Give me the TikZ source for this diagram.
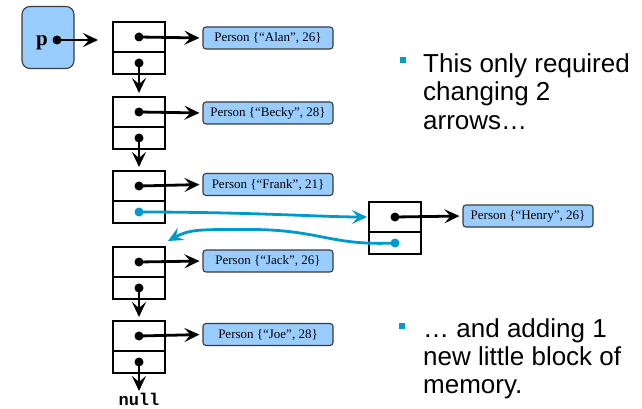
\documentclass[tikz,border=0pt]{standalone}
\usepackage{fontspec}
\setmainfont{Liberation Serif}
\setmonofont{Liberation Mono}
\newfontfamily\bulletfont{Liberation Sans}
\usetikzlibrary{arrows.meta}

\definecolor{boxfill}{HTML}{99CCFF}
\definecolor{boxedge}{HTML}{3A3A3A}
\definecolor{linkblue}{HTML}{0099CC}

\tikzset{
  cell/.style={draw, line width=2pt, minimum width=52pt, inner sep=0pt, outer sep=0pt},
  topcell/.style={cell, minimum height=30pt},
  botcell/.style={cell, minimum height=22pt},
  person/.style={draw=boxedge, fill=boxfill, line width=1.1pt, rounded corners=3pt,
    minimum width=130pt, minimum height=22pt, inner sep=0pt,
    font=\fontsize{13}{15}\selectfont},
  ptr/.style={line width=2.8pt, -{Stealth[length=15pt,width=14pt,inset=6pt]}},
  blueptr/.style={ptr, draw=linkblue},
  dot/.style={circle, fill, inner sep=0pt, minimum size=9pt},
  bluedot/.style={dot, fill=linkblue},
  txt/.style={anchor=base west, inner sep=0pt, font=\bulletfont\fontsize{26}{28}\selectfont},
  bsq/.style={fill=linkblue, minimum size=6pt, inner sep=0pt}
}

\begin{document}
\begin{tikzpicture}[x=1pt, y=-1pt]
\useasboundingbox (0,0) rectangle (642,409);

% pointer variable p
\node[draw=boxedge, fill=boxfill, line width=1.1pt, rounded corners=8pt,
      minimum width=52pt, minimum height=62pt, inner sep=0pt] (pbox) at (48,37.5) {};
\node[font=\fontsize{21}{24}\selectfont\bfseries, inner sep=0pt, anchor=base] (plabel) at (42,46) {p};
\node[dot] (pdot) at (57,40) {};

% list blocks: top cell holds the data pointer, bottom cell the next pointer
\node[topcell] (a1) at (139,37) {};  \node[botcell, anchor=north] (a2) at (a1.south) {};
\node[topcell] (b1) at (139,112) {}; \node[botcell, anchor=north] (b2) at (b1.south) {};
\node[topcell] (c1) at (139,186) {}; \node[botcell, anchor=north] (c2) at (c1.south) {};
\node[topcell] (d1) at (139,262) {}; \node[botcell, anchor=north] (d2) at (d1.south) {};
\node[topcell] (e1) at (139,336) {}; \node[botcell, anchor=north] (e2) at (e1.south) {};
\node[topcell] (h1) at (395,217) {}; \node[botcell, anchor=north] (h2) at (h1.south) {};

% person records
\node[person] (alan)  at (268,38)  {Person \{“Alan”, 26\}};
\node[person] (becky) at (268,113) {Person \{“Becky”, 28\}};
\node[person] (frank) at (268,184.5) {Person \{“Frank”, 21\}};
\node[person] (jack)  at (268,261) {Person \{“Jack”, 26\}};
\node[person] (joe)   at (268,334.5) {Person \{“Joe”, 28\}};
\node[person] (henry) at (528,216) {Person \{“Henry”, 26\}};

\node[font=\ttfamily\bfseries\fontsize{17}{20}\selectfont, inner sep=0pt, anchor=base] (null) at (139,405.5) {null};

% pointer from p
\draw[ptr, shorten >=15pt] (pdot.center) -- (a1.west |- pdot);

% data pointers
\foreach \blk/\rec in {a1/alan, b1/becky, c1/frank, d1/jack, e1/joe, h1/henry}{
  \node[dot] at (\blk.center) {};
  \draw[ptr, shorten >=3pt] (\blk.center) -- (\rec.west);
}

% next pointers
\foreach \src/\dst in {a2/b1, b2/c1, d2/e1}{
  \node[dot] at (\src.center) {};
  \draw[ptr, shorten >=4pt] (\src.center) -- (\dst.north);
}
\node[dot] at (e2.center) {};
\draw[ptr, shorten >=2pt] (e2.center) -- (null.north);

% relinked next pointers
\node[bluedot] (fdot) at (c2.center) {};
\node[bluedot] (hdot) at (h2.center) {};
\draw[blueptr, shorten >=2pt] (c2.center) .. controls +(110,0) and +(-45,0) .. (h1.west);
\coordinate (bend) at (250,229.5);
\coordinate (jacktop) at ([shift={(3,-6)}]d1.north east);
\draw[blueptr] (h2.center) .. controls (330,246) and (320,229.5) .. (bend)
  .. controls (200,229.5) and (190,229) .. (jacktop);

% bullet text
\node[bsq] (sq1) at (402.5,60.5) {};
\node[txt] (t1) at (423,72.5) {This only required};
\node[txt] (t2) at (423,101) {changing 2};
\node[txt] (t3) at (423,129.5) {arrows…};

\node[bsq] (sq2) at (402,326) {};
\node[txt] (t4) at (423,337) {… and adding 1};
\node[txt] (t5) at (423,365) {new little block of};
\node[txt] (t6) at (423,393) {memory.};
\end{tikzpicture}
\end{document}
